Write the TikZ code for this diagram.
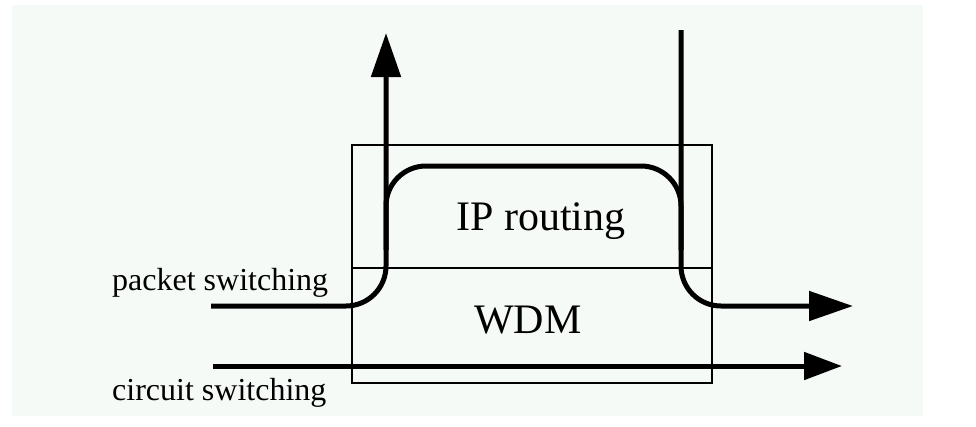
\documentclass[tikz,border=0pt]{standalone}
\usepackage{fontspec}
\setmainfont{Liberation Serif}
\usetikzlibrary{arrows.meta}
\definecolor{bgtint}{RGB}{246,250,247}
\tikzset{
  thick route/.style={line width=5pt, rounded corners=40pt},
  bigtip/.style={-{Triangle[length=44pt,width=29pt]}},
  boxline/.style={draw=black, line width=1.3pt},
  big label/.style={font=\fontsize{42}{48}\selectfont, anchor=base, inner sep=0pt},
  side label/.style={font=\fontsize{32}{38}\selectfont, anchor=base west, inner sep=0pt},
}
\begin{document}
\begin{tikzpicture}[x=1pt,y=-1pt]
\useasboundingbox (0,0) rectangle (976,426);
\fill[white] (0,0) rectangle (976,426);
\fill[bgtint] (12,5) rectangle (923,416);

% boxes
\coordinate (ipTL) at (352,145);
\coordinate (ipBR) at (712,268);
\coordinate (wdmTL) at (352,268);
\coordinate (wdmBR) at (712,383);
\draw[boxline] (ipTL) rectangle (ipBR);
\draw[boxline] (wdmTL) rectangle (wdmBR);

\node[big label] (ip) at (541,230) {IP routing};
\node[big label] (wdm) at (528,333) {WDM};
\node[side label] (pkt) at (112,290) {packet switching};
\node[side label] (cir) at (112,400) {circuit switching};

% packet path in
\coordinate (pin) at (211,306);
\coordinate (pbend) at (386,306);
\coordinate (pout) at (386,33);
\draw[thick route, bigtip] (pin) -- (pbend) -- (pout);

% IP routing loop
\coordinate (loopA) at (386,250);
\coordinate (loopB) at (386,166);
\coordinate (loopC) at (681,166);
\coordinate (loopD) at (681,250);
\draw[thick route] (loopA) -- (loopB) -- (loopC) -- (loopD);

% packet path out
\coordinate (rin) at (681,30);
\coordinate (rbend) at (681,306);
\coordinate (rout) at (853,306);
\draw[thick route, bigtip] (rin) -- (rbend) -- (rout);

% circuit path
\coordinate (cin) at (213,366);
\coordinate (cout) at (842,366);
\draw[line width=5pt, -{Triangle[length=38pt,width=27pt]}] (cin) -- (cout);
\end{tikzpicture}
\end{document}
